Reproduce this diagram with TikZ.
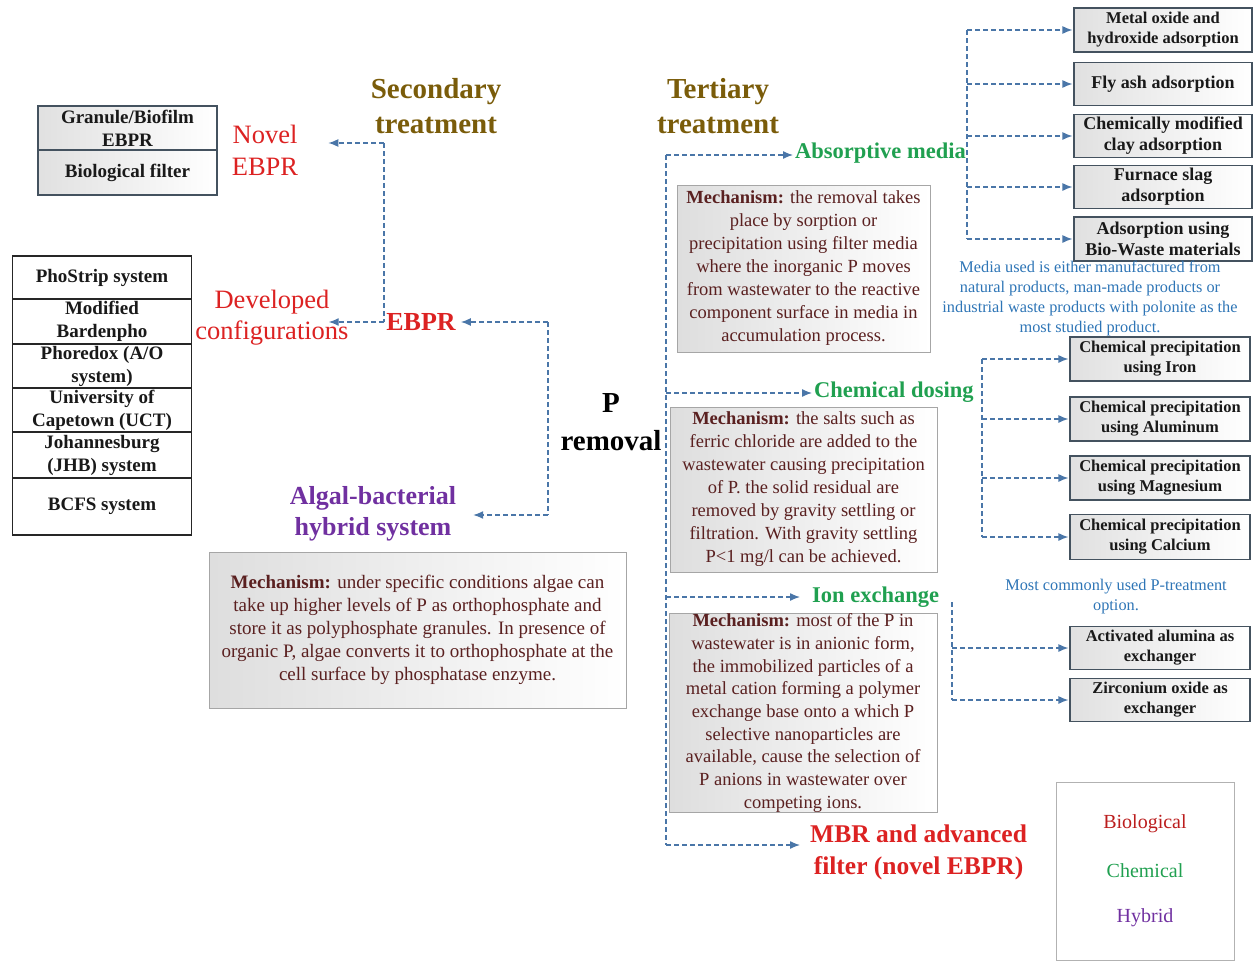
\documentclass[tikz,border=0pt]{standalone}
\usepackage{fontspec}
\setmainfont{Liberation Serif}
\usetikzlibrary{arrows.meta}
\definecolor{arrowc}{HTML}{4A76A8}
\definecolor{olivec}{HTML}{7A5C0A}
\definecolor{bioc}{HTML}{DC2222}
\definecolor{chemc}{HTML}{20A050}
\definecolor{hybc}{HTML}{7030A0}
\definecolor{notec}{HTML}{2E75B6}
\definecolor{mechc}{HTML}{5A2020}
\definecolor{boxb}{HTML}{44525F}
\newcommand{\myfsz}[2]{\fontsize{#1}{#2}\selectfont}
\begin{document}
\begin{tikzpicture}[x=1pt,y=-1pt,
  conn/.style={draw=arrowc, line width=1.3pt, dash pattern=on 5pt off 3pt,
    -{Latex[length=10pt,width=8pt]}},
  bracket/.style={draw=arrowc, line width=1.3pt, dash pattern=on 5pt off 3pt},
  head/.style={font=\bfseries\myfsz{29}{35}, text=olivec, align=center, inner sep=0pt},
  gbox/.style={draw=boxb, line width=1.1pt, left color=black!12, right color=white,
    minimum width=179pt, align=center, inner sep=0pt, font=\bfseries\myfsz{19}{23}, text=black!90},
  sbox/.style={draw=black!85, line width=1.1pt, fill=white,
    minimum width=179pt, align=center, inner sep=0pt, font=\bfseries\myfsz{19}{23}, text=black!90},
  subbox/.style={draw=boxb, line width=1.1pt, left color=black!12, right color=white,
    minimum width=178pt, minimum height=43pt, align=center, inner sep=0pt,
    font=\bfseries\myfsz{16.5}{20}, text=black!90},
  mech/.style={draw=black!35, line width=1pt, left color=black!13, right color=white,
    align=center, inner sep=0pt, font=\myfsz{18.5}{23}, text=mechc},
  note/.style={align=center, inner sep=0pt, font=\myfsz{16.3}{20}, text=notec},
  branch/.style={font=\bfseries\myfsz{22.5}{26}, text=chemc, inner sep=0pt, anchor=west},
]
\useasboundingbox (0,0) rectangle (1254,961);

% ---------- headings and centre ----------
\node[head] (sec) at (436,106) {Secondary\\treatment};
\node[head] (ter) at (718,106) {Tertiary\\treatment};
\node[font=\bfseries\myfsz{29}{38}, align=center, inner sep=0pt] (prem) at (611,422) {P\\removal};

% ---------- secondary (biological / hybrid) side ----------
\node[font=\myfsz{26.5}{32}, text=bioc, align=center, inner sep=0pt] (novel) at (265,150) {Novel\\EBPR};
\node[font=\myfsz{26.5}{31}, text=bioc, align=center, inner sep=0pt] (devconf) at (272,318) {Developed\\configurations};
\node[font=\bfseries\myfsz{26}{28}, text=bioc, inner sep=0pt] (ebpr) at (421,322) {EBPR};
\node[font=\bfseries\myfsz{26}{31}, text=hybc, align=center, inner sep=0pt] (algal) at (373,514) {Algal-bacterial\\hybrid system};

\node[gbox, minimum height=44pt] (gran) at (127.5,128) {Granule/Biofilm\\EBPR};
\node[gbox, minimum height=45pt] (biof) at (127.5,172.5) {Biological filter};

\node[sbox, minimum height=43pt] (st1) at (102,277.5) {PhoStrip system};
\node[sbox, minimum height=45pt] (st2) at (102,321.5) {Modified\\Bardenpho};
\node[sbox, minimum height=44pt] (st3) at (102,366) {Phoredox (A/O\\system)};
\node[sbox, minimum height=44pt] (st4) at (102,410) {University of\\Capetown (UCT)};
\node[sbox, minimum height=46pt] (st5) at (102,455) {Johannesburg\\(JHB) system};
\node[sbox, minimum height=57pt] (st6) at (102,506.5) {BCFS system};

\node[mech, minimum width=417pt, minimum height=156pt, font=\myfsz{19}{23}] (mechalg) at (417.5,630)
  {\textbf{Mechanism:} under specific conditions algae can\\
   take up higher levels of P as orthophosphate and\\
   store it as polyphosphate granules. In presence of\\
   organic P, algae converts it to orthophosphate at the\\
   cell surface by phosphatase enzyme.};

% connectors of the secondary side
\coordinate (sv1) at (384,143);
\coordinate (sv2) at (ebpr.west -| sv1);
\draw[bracket] (sv1) -- (sv2);
\draw[conn, shorten >=30pt] (sv1) -- (sv1 -| novel.east);
\draw[conn, shorten >=-20pt] (sv2) -- (sv2 -| devconf.east);

\coordinate (pv1) at (548,322);
\coordinate (pv2) at (548,515);
\draw[bracket] (pv1) -- (pv2);
\draw[conn, shorten >=5pt] (pv1) -- (pv1 -| ebpr.east);
\draw[conn, shorten >=17pt] (pv2) -- (pv2 -| algal.east);

% ---------- tertiary (chemical) side ----------
\node[branch] (absorb) at (795,153) {Absorptive media};
\node[branch] (chem) at (814,392) {Chemical dosing};
\node[branch] (ionx) at (812,597) {Ion exchange};
\node[font=\bfseries\myfsz{25.5}{32}, text=bioc, align=center, inner sep=0pt, anchor=west] (mbr) at (810,852) {MBR and advanced\\filter (novel EBPR)};

\node[mech, minimum width=253pt, minimum height=167pt] (mech1) at (803.5,268.5)
  {\textbf{Mechanism:} the removal takes\\
   place by sorption or\\
   precipitation using filter media\\
   where the inorganic P moves\\
   from wastewater to the reactive\\
   component surface in media in\\
   accumulation process.};
\node[mech, minimum width=267pt, minimum height=165pt] (mech2) at (803.5,489.5)
  {\textbf{Mechanism:} the salts such as\\
   ferric chloride are added to the\\
   wastewater causing precipitation\\
   of P. the solid residual are\\
   removed by gravity settling or\\
   filtration. With gravity settling\\
   P<1 mg/l can be achieved.};
\node[mech, minimum width=268pt, minimum height=198pt, font=\myfsz{18.5}{22.7}] (mech3) at (803,713)
  {\textbf{Mechanism:} most of the P in\\
   wastewater is in anionic form,\\
   the immobilized particles of a\\
   metal cation forming a polymer\\
   exchange base onto a which P\\
   selective nanoparticles are\\
   available, cause the selection of\\
   P anions in wastewater over\\
   competing ions.};

\coordinate (tv1) at (666,155);
\coordinate (tv2) at (666,393);
\coordinate (tv3) at (666,597);
\coordinate (tv4) at (666,845);
\draw[bracket] (tv1) -- (tv4);
\draw[conn, shorten >=2pt] (tv1) -- (tv1 -| absorb.west);
\draw[conn, shorten >=2pt] (tv2) -- (tv2 -| chem.west);
\draw[conn, shorten >=12pt] (tv3) -- (tv3 -| ionx.west);
\draw[conn, shorten >=10pt] (tv4) -- (tv4 -| mbr.west);

% adsorption media
\node[subbox, font=\bfseries\myfsz{16.5}{20}, minimum height=44pt] (a1) at (1163,30) {Metal oxide and\\hydroxide adsorption};
\node[subbox, font=\bfseries\myfsz{18}{21}] (a2) at (1163,84) {Fly ash adsorption};
\node[subbox, font=\bfseries\myfsz{18}{21}] (a3) at (1163,136) {Chemically modified\\clay adsorption};
\node[subbox, font=\bfseries\myfsz{18}{21}] (a4) at (1163,187) {Furnace slag\\adsorption};
\node[subbox, font=\bfseries\myfsz{18}{21}, minimum height=44pt] (a5) at (1163,239) {Adsorption using\\Bio-Waste materials};
\node[note] (medianote) at (1090,298) {Media used is either manufactured from\\natural products, man-made products or\\industrial waste products with polonite as the\\most studied product.};

\coordinate (ab) at (967,0);
\draw[bracket] (a1.west -| ab) -- (a5.west -| ab);
\foreach \b in {a1,a2,a3,a4,a5}
  \draw[conn, shorten >=1pt] (\b.west -| ab) -- (\b.west);

% chemical precipitation
\node[subbox, minimum width=180pt, minimum height=44pt] (c1) at (1160,359) {Chemical precipitation\\using Iron};
\node[subbox, minimum width=180pt, minimum height=44pt] (c2) at (1160,419) {Chemical precipitation\\using Aluminum};
\node[subbox, minimum width=180pt, minimum height=44pt] (c3) at (1160,478) {Chemical precipitation\\using Magnesium};
\node[subbox, minimum width=180pt, minimum height=45pt] (c4) at (1160,537) {Chemical precipitation\\using Calcium};
\node[note] (chemnote) at (1116,597) {Most commonly used P-treatment\\option.};

\coordinate (cb) at (982,0);
\draw[bracket] (c1.west -| cb) -- (c4.west -| cb);
\foreach \b in {c1,c2,c3,c4}
  \draw[conn, shorten >=1pt] (\b.west -| cb) -- (\b.west);

% ion exchangers
\node[subbox, minimum width=180pt] (i1) at (1160,648) {Activated alumina as\\exchanger};
\node[subbox, minimum width=180pt] (i2) at (1160,700) {Zirconium oxide as\\exchanger};
\coordinate (ib) at (952,602);
\draw[bracket] (ib) -- (i2.west -| ib);
\foreach \b in {i1,i2}
  \draw[conn, shorten >=1pt] (\b.west -| ib) -- (\b.west);

% ---------- legend ----------
\node[draw=black!30, line width=1pt, minimum width=178pt, minimum height=178pt, inner sep=0pt] (leg) at (1145,871) {};
\node[font=\myfsz{20}{22}, text=bioc!85!black, inner sep=0pt] (lbio) at (1145,824) {Biological};
\node[font=\myfsz{20}{22}, text=chemc, inner sep=0pt] (lchem) at (1145,871) {Chemical};
\node[font=\myfsz{20}{22}, text=hybc, inner sep=0pt] (lhyb) at (1145,918) {Hybrid};
\end{tikzpicture}
\end{document}
